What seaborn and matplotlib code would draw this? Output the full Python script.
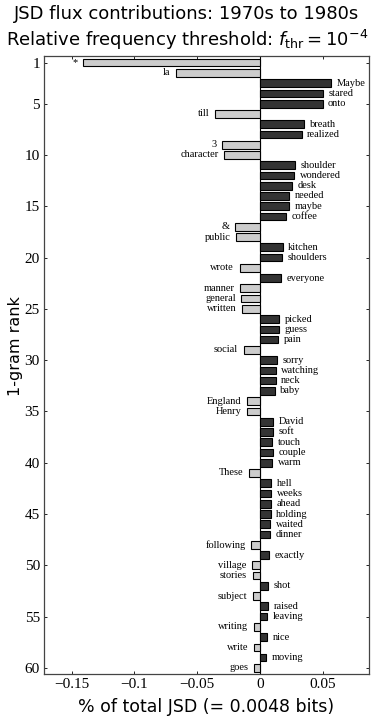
import numpy as np
import pandas as pd
import matplotlib
matplotlib.use("Agg")
import matplotlib.pyplot as plt
import seaborn as sns

words = ["*", "la", "Maybe", "stared", "onto", "till", "breath", "realized", "3", "character",
         "shoulder", "wondered", "desk", "needed", "maybe", "coffee", "&", "public", "kitchen", "shoulders",
         "wrote", "everyone", "manner", "general", "written", "picked", "guess", "pain", "social", "sorry",
         "watching", "neck", "baby", "England", "Henry", "David", "soft", "touch", "couple", "warm",
         "These", "hell", "weeks", "ahead", "holding", "waited", "dinner", "following", "exactly", "village",
         "stories", "shot", "subject", "raised", "leaving", "writing", "nice", "write", "moving", "goes"]

contrib = [-0.1410, -0.0670, 0.0566, 0.0506, 0.0500, -0.0355, 0.0354, 0.0333, -0.0303, -0.0282,
           0.0279, 0.0272, 0.0258, 0.0236, 0.0236, 0.0208, -0.0197, -0.0187, 0.0181, 0.0178,
           -0.0160, 0.0167, -0.0155, -0.0147, -0.0144, 0.0152, 0.0152, 0.0147, -0.0130, 0.0138,
           0.0128, 0.0125, 0.0120, -0.0103, -0.0101, 0.0109, 0.0109, 0.0101, 0.0103, 0.0098,
           -0.0088, 0.0093, 0.0093, 0.0091, 0.0088, 0.0085, 0.0083, -0.0069, 0.0075, -0.0061,
           -0.0058, 0.0064, -0.0056, 0.0064, 0.0061, -0.0050, 0.0058, -0.0048, 0.0053, -0.0045]

ranks = np.arange(1, len(words) + 1)
rank_ticks = [1, 5, 10, 15, 20, 25, 30, 35, 40, 45, 50, 55, 60]
x_ticks = [-0.15, -0.1, -0.05, 0, 0.05]
x_tick_labels = ["\u22120.15", "\u22120.1", "\u22120.05", "0", "0.05"]

df = pd.DataFrame({"rank": ranks, "contrib": contrib, "word": words})
df["sign"] = np.where(df["contrib"] > 0, "up", "down")

sns.set_theme(style="white")
plt.rcParams["font.family"] = ["DejaVu Sans"]
plt.rcParams["text.color"] = "black"
plt.rcParams["axes.labelcolor"] = "black"
plt.rcParams["xtick.color"] = "black"
plt.rcParams["ytick.color"] = "black"

fig = plt.figure(figsize=(3.74, 7.24), dpi=100)
ax = fig.add_axes([0.1176, 0.069, 0.869, 0.8537])

sns.barplot(data=df, x="contrib", y="rank", hue="sign", orient="h", native_scale=True,
            palette={"up": "#333333", "down": "#cccccc"}, edgecolor="black", linewidth=0.8,
            width=0.75, dodge=False, legend=False, ax=ax)

ax.axvline(0, color="black", lw=0.8, zorder=0)

# word labels at the end of each bar
for r, v, w in zip(ranks, contrib, words):
    if v > 0:
        ax.annotate(w, (v, r), xytext=(4, 0), textcoords="offset points",
                    ha="left", va="center", fontsize=7.5, family="Liberation Serif")
    else:
        ax.annotate(w, (v, r), xytext=(-4, 0), textcoords="offset points",
                    ha="right", va="center", fontsize=7.5, family="Liberation Serif")

ax.set_xlim(-0.172, 0.087)
ax.set_ylim(60.6, 0.35)
ax.set_yticks(rank_ticks)
ax.set_yticklabels([str(t) for t in rank_ticks], family="Liberation Serif", fontsize=11)
ax.set_xticks(x_ticks)
ax.set_xticklabels(x_tick_labels, family="Liberation Serif", fontsize=11)
ax.tick_params(direction="in", length=2.5, width=0.6, top=True, right=True,
               bottom=True, left=True, pad=3)
for s in ax.spines.values():
    s.set_visible(True)
    s.set_color("#444444")
    s.set_linewidth(0.9)

ax.set_xlabel("% of total JSD (= 0.0048 bits)", fontsize=12.5, labelpad=5)
ax.set_ylabel("1-gram rank", fontsize=11.5)
ax.yaxis.set_label_coords(-0.065, 0.53)

fig.text(0.5, 0.993, "JSD flux contributions: 1970s to 1980s", ha="center", va="top", fontsize=13)
fig.text(0.5, 0.962, r"Relative frequency threshold: $f_{\rm thr} = 10^{-4}$",
         ha="center", va="top", fontsize=13)

fig.savefig("out.png", dpi=100)
